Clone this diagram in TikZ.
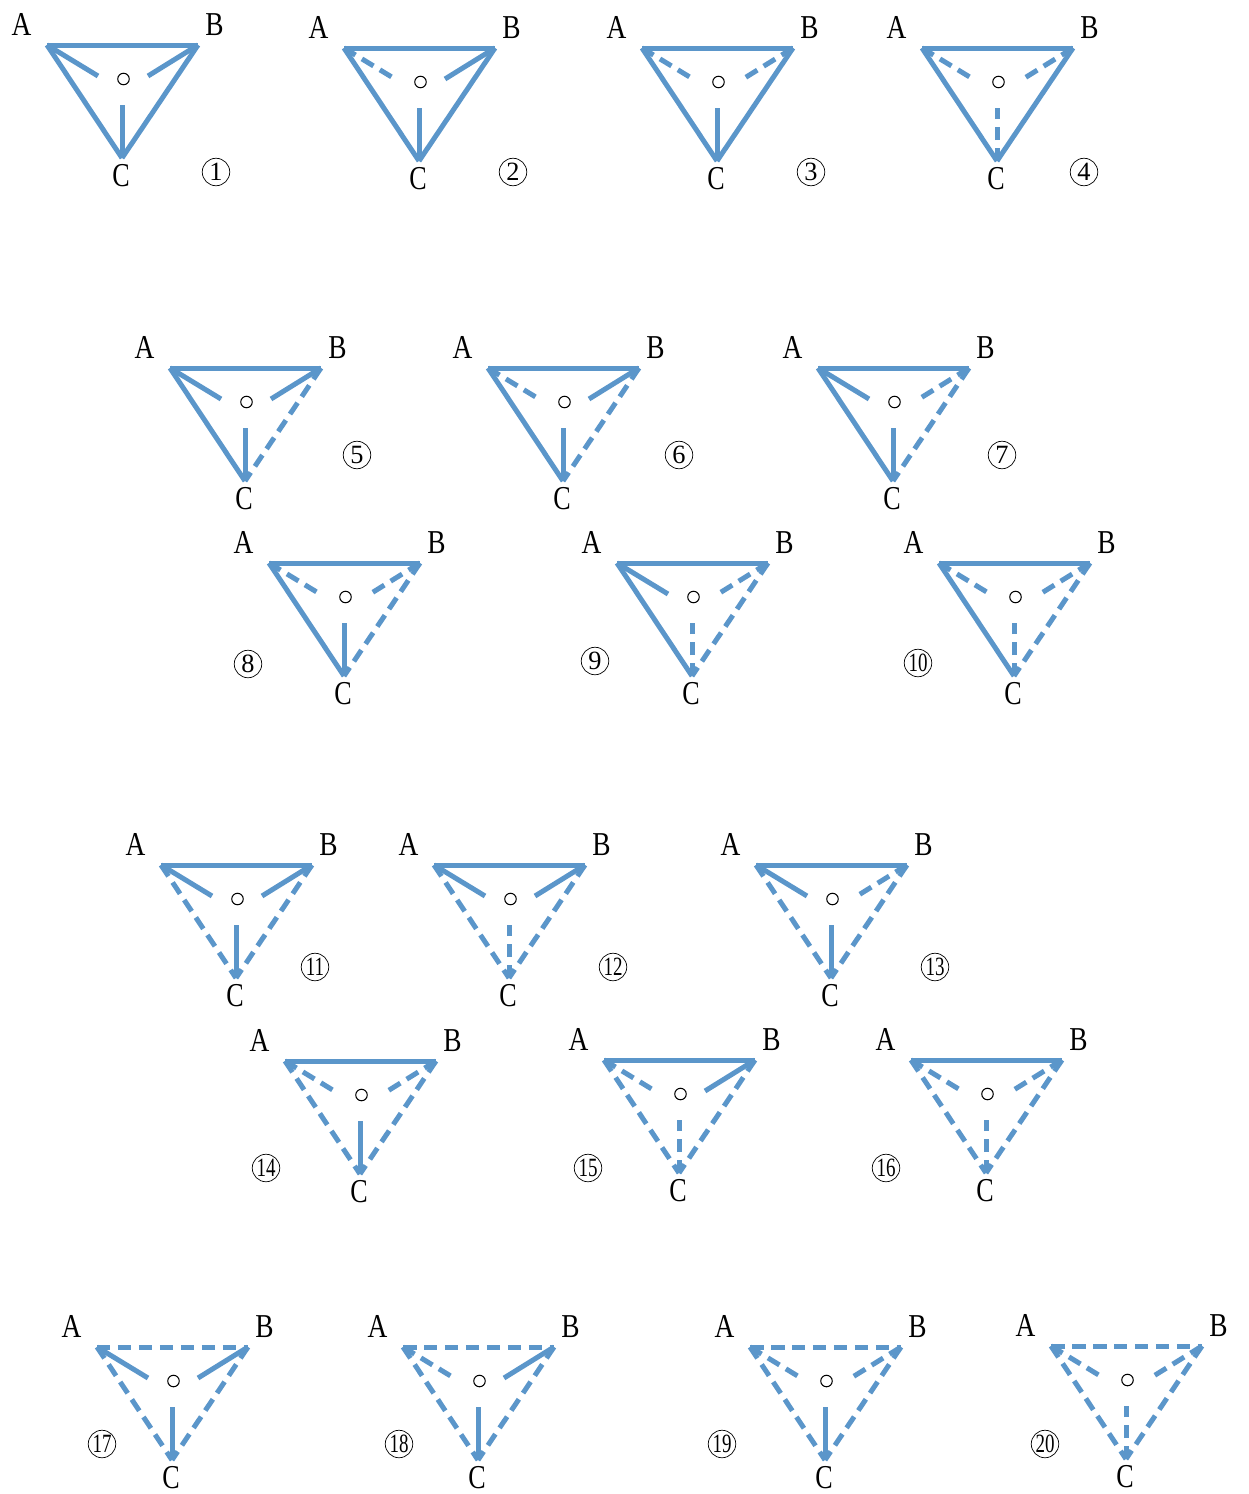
\documentclass[tikz,border=0pt]{standalone}
\usepackage{fontspec}
\usepackage{graphicx}
\setmainfont{Liberation Serif}
\definecolor{edgeblue}{RGB}{91,150,202}
\begin{document}
\begin{tikzpicture}[
    x=0.02cm, y=-0.02cm,
    s/.style={line width=0.1cm, edgeblue},
    d/.style={line width=0.1cm, edgeblue, dash pattern=on 0.27cm off 0.15cm},
    corner_label/.style={inner sep=0pt, font=\fontsize{19}{19}\selectfont},
    hub/.style={circle, draw, black, line width=0.6pt, inner sep=0pt, minimum size=0.23cm, fill=white},
    num_label/.style={circle, draw, black, line width=0.4pt, inner sep=0pt, minimum size=0.55cm, font=\fontsize{15}{15}\selectfont}
]
    \useasboundingbox (0,0) rectangle (1248,1494);
    \foreach \ax/\ay/\nx/\ny/\n/\ab/\ac/\bc/\ao/\bo/\co in {
        47/45/216/172/1/s/s/s/s/s/s,
        344/48/513/172/2/s/s/s/d/s/s,
        642/48/811/172/3/s/s/s/d/d/s,
        922/48/1084/172/4/s/s/s/d/d/d,
        170/368/357/455/5/s/s/d/s/s/s,
        488/368/679/455/6/s/s/d/d/s/s,
        818/368/1002/455/7/s/s/d/s/d/s,
        269/563/248/664/8/s/s/d/d/d/s,
        617/563/595/661/9/s/s/d/s/d/d,
        939/563/918/663/10/s/s/d/d/d/d,
        161/865/315/967/11/s/d/d/s/s/s,
        434/865/613/967/12/s/d/d/s/s/d,
        756/865/935/967/13/s/d/d/s/d/s,
        285/1061/266/1168/14/s/d/d/d/d/s,
        604/1060/588/1168/15/s/d/d/d/s/d,
        911/1060/886/1168/16/s/d/d/d/d/d,
        97/1347/102/1444/17/d/d/d/s/s/s,
        403/1347/399/1444/18/d/d/d/d/s/s,
        750/1347/722/1444/19/d/d/d/d/d/s,
        1051/1346/1045/1444/20/d/d/d/d/d/d%
    }{
        \begin{scope}[shift={(\ax,\ay)}]
            \coordinate (A\n) at (0,0);
            \coordinate (B\n) at (151,0);
            \coordinate (C\n) at (75,113);
            \coordinate (endA\n) at (51,31);
            \coordinate (endB\n) at (101,31);
            \coordinate (endC\n) at (75,60);
            \node[hub] (O\n) at (76.5,34) {};
            \draw[\ab] (A\n) -- (B\n);
            \draw[\ac] (A\n) -- (C\n);
            \draw[\bc] (B\n) -- (C\n);
            \draw[\ao] (A\n) -- (endA\n);
            \draw[\bo] (B\n) -- (endB\n);
            \draw[\co] (C\n) -- (endC\n);
            \node[corner_label] (labA\n) at (-25.5,-21) {\scalebox{.82}[1]{A}};
            \node[corner_label] (labB\n) at (167.5,-20) {\scalebox{.82}[1]{B}};
            \node[corner_label] (labC\n) at (74,131) {\scalebox{.78}[1]{C}};
        \end{scope}
        \ifnum\n>9
            \node[num_label] (num\n) at (\nx,\ny) {\scalebox{.72}[1]{\n}};
        \else
            \node[num_label] (num\n) at (\nx,\ny) {\n};
        \fi
    }
\end{tikzpicture}
\end{document}
